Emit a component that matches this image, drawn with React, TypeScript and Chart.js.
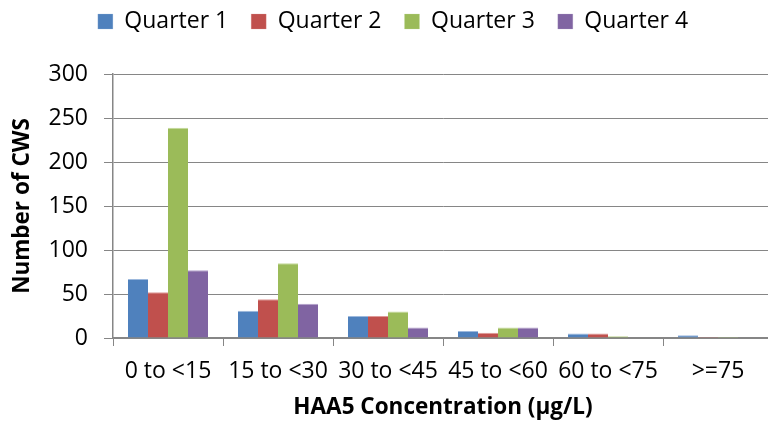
import React, { useEffect, useRef } from 'react';
import { Chart, registerables, layouts } from 'chart.js';

Chart.register(...registerables);

const categories = ['0 to <15', '15 to <30', '30 to <45', '45 to <60', '60 to <75', '>=75'];
const seriesNames = ['Quarter 1', 'Quarter 2', 'Quarter 3', 'Quarter 4'];
const quarter1 = [67, 31, 25, 8, 5, 3];
const quarter2 = [52, 44, 25, 6, 5, 1];
const quarter3 = [239, 85, 30, 12, 2, 1];
const quarter4 = [77, 39, 12, 12, 0, 0];
const yMin = 0;
const yMax = 300;
const yStep = 50;
const xTitle = 'HAA5 Concentration (µg/L)';
const yTitle = 'Number of CWS';

const colors = ['#4F81BD', '#C0504D', '#9BBB59', '#8064A2'];
const topEdges = ['#9DB9DD', '#DE9A98', '#C4DA9C', '#B4A1CC'];
const FONT = '"Open Sans", "DejaVu Sans", sans-serif';

const spacerPlugin = {
  id: 'legendSpacer',
  beforeInit(chart: any) {
    const box: any = {
      position: 'top',
      weight: 500,
      fullSize: true,
      options: {},
      top: 0, left: 0, right: 0, bottom: 0, width: 0, height: 0,
      isHorizontal: () => true,
      update(maxWidth: number) {
        box.width = maxWidth;
        box.height = 31;
      },
      getPadding: () => ({ top: 0, left: 0, right: 0, bottom: 0 }),
      draw() {},
    };
    layouts.addBox(chart, box);
  },
};

export default function App() {
  const ref = useRef<HTMLCanvasElement>(null);

  useEffect(() => {
    const values = [quarter1, quarter2, quarter3, quarter4];
    const chart = new Chart(ref.current!, {
      type: 'bar',
      data: {
        labels: categories,
        datasets: seriesNames.map((name, i) => ({
          label: name,
          data: values[i],
          backgroundColor: colors[i],
          borderColor: topEdges[i],
          borderWidth: { top: 1, left: 0, right: 0, bottom: 0 },
          borderSkipped: 'bottom',
          categoryPercentage: 0.7273,
          barPercentage: 1,
        })),
      },
      options: {
        animation: false,
        responsive: false,
        devicePixelRatio: 1,
        layout: { padding: { left: 13, right: 13, top: -13, bottom: 0 } },
        plugins: {
          tooltip: { enabled: false },
          legend: {
            position: 'top',
            labels: {
              boxWidth: 15,
              boxHeight: 15,
              padding: 23,
              color: '#000',
              font: { family: FONT, size: 23 },
            },
          },
        },
        scales: {
          x: {
            grid: {
              offset: true,
              drawOnChartArea: false,
              drawTicks: true,
              tickLength: 8,
              color: '#868686',
              lineWidth: 1,
            },
            border: { color: '#868686', width: 1.5 },
            ticks: {
              color: '#000',
              font: { family: FONT, size: 23 },
              padding: 12,
              maxRotation: 0,
              autoSkip: false,
            },
            title: {
              display: true,
              text: xTitle,
              color: '#000',
              font: { family: FONT, size: 22.5, weight: 'bold' },
              padding: { top: 0, bottom: 6 },
            },
            afterFit: (s: any) => {
              s.height = 89;
            },
          },
          y: {
            min: yMin,
            max: yMax,
            grid: {
              color: '#868686',
              lineWidth: 1,
              tickLength: 9,
            },
            border: { color: '#868686', width: 1.5 },
            ticks: {
              stepSize: yStep,
              color: '#000',
              font: { family: FONT, size: 23 },
              padding: 16,
            },
            title: {
              display: true,
              text: yTitle,
              color: '#000',
              font: { family: FONT, size: 22.5, weight: 'bold', lineHeight: 0.85 },
              padding: { top: 0, bottom: 0 },
            },
            afterFit: (s: any) => {
              s.width = 100;
            },
          },
        },
      },
      plugins: [spacerPlugin],
    });
    return () => chart.destroy();
  }, []);

  return (
    <div style={{ position: 'fixed', top: 0, left: 0, width: 768, height: 427, overflow: 'hidden', background: '#fff' }}>
      <canvas ref={ref} width={786} height={427} style={{ display: 'block', width: 786, height: 427 }} />
    </div>
  );
}
